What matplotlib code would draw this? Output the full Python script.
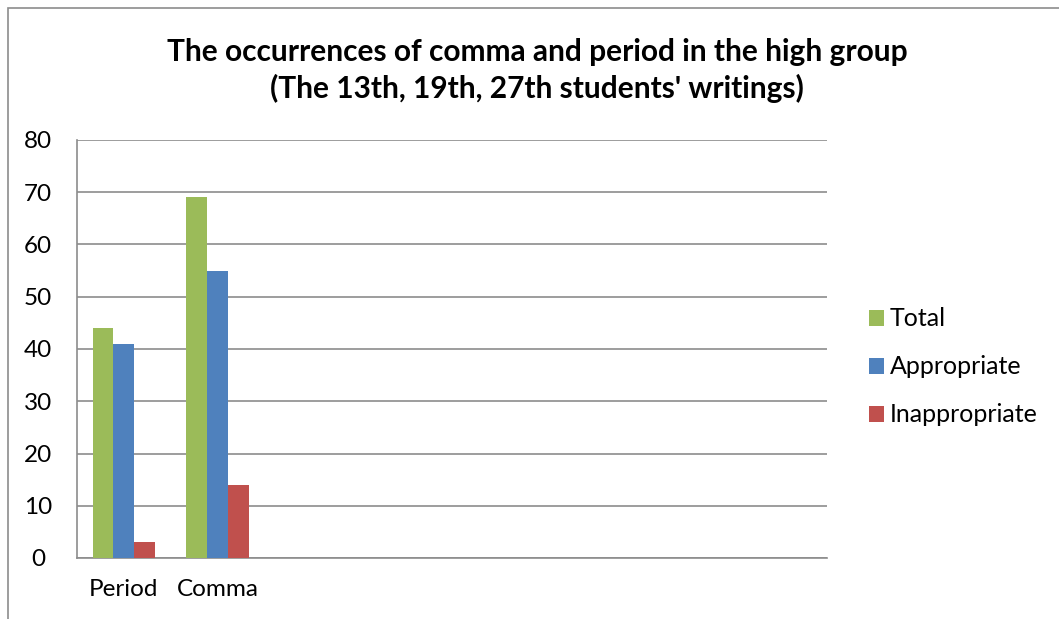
import matplotlib.pyplot as plt
import numpy as np
from matplotlib.patches import Rectangle

categories = ["Period", "Comma"]
series_names = ["Total", "Appropriate", "Inappropriate"]
total = [44, 69]
appropriate = [41, 55]
inappropriate = [3, 14]
n_slots = 8  # the chart keeps room for 8 categories, only 2 filled

colors = ["#9BBB59", "#4F81BD", "#C0504D"]
grid_color = "#8C8C8C"

plt.rcParams['font.family'] = ['Lato', 'DejaVu Sans']

fig = plt.figure(figsize=(10.59, 6.19), dpi=100)
ax = fig.add_axes([77 / 1059, 1 - 558 / 619, 750 / 1059, 418 / 619])

# outer chart border (runs past the bottom/right edges of the image)
fig.patches.append(Rectangle((8 / 1059, -0.1), 1.2, 1.1 - 8 / 619,
                             transform=fig.transFigure, fill=False,
                             edgecolor="#8C8C8C", linewidth=1.2))

bar_w = 1 / 4.5
x = np.arange(len(categories))
for i, (vals, name) in enumerate(zip([total, appropriate, inappropriate], series_names)):
    ax.bar(x + (i - 1) * bar_w, vals, bar_w, color=colors[i], label=name, zorder=3)

ax.set_xlim(-0.5, n_slots - 0.5)
ax.set_ylim(0, 80)
ax.set_yticks(range(0, 81, 10))
ax.set_xticks(x)
ax.set_xticklabels(categories)
ax.yaxis.grid(True, color=grid_color, linewidth=1.2, zorder=0)
ax.tick_params(axis='both', length=0, labelsize=17.5, colors="black")
ax.tick_params(axis='x', pad=15)
ax.tick_params(axis='y', pad=28)
for lab in ax.get_yticklabels():
    lab.set_horizontalalignment('center')
for side in ["top", "right"]:
    ax.spines[side].set_visible(False)
for side in ["left", "bottom"]:
    ax.spines[side].set_color(grid_color)
    ax.spines[side].set_linewidth(1.2)

fig.text(537 / 1059, 1 - 52 / 619, "The occurrences of comma and period in the high group",
         ha='center', va='center', fontsize=21.5, fontweight='bold')
fig.text(537 / 1059, 1 - 88 / 619, "(The 13th, 19th, 27th students' writings)",
         ha='center', va='center', fontsize=21.5, fontweight='bold')

ax.legend(loc='center left', bbox_to_anchor=(846 / 1059, 1 - 367 / 619),
          bbox_transform=fig.transFigure, frameon=False, fontsize=18,
          handlelength=0.6, handleheight=0.6, handletextpad=0.25, labelspacing=1.0)

fig.savefig("out.png", dpi=100)
